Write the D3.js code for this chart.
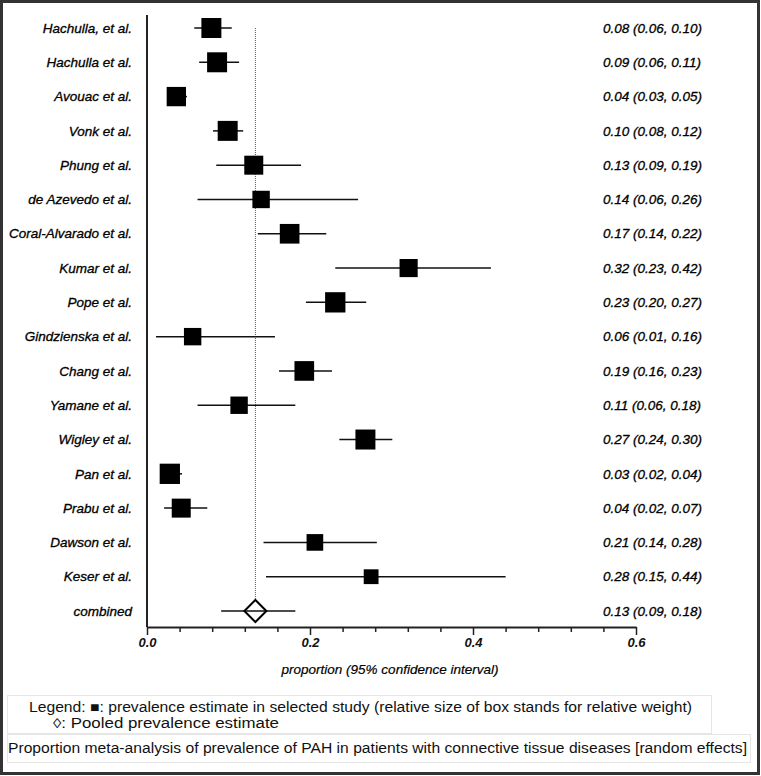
<!DOCTYPE html>
<html>
<head>
<meta charset="utf-8">
<script src="https://cdn.jsdelivr.net/npm/d3@7"></script>
<style>
  body { margin: 0; background: #fff; }
  svg { display: block; font-family: 'Liberation Sans', Arial, sans-serif; }
  .axis path, .axis line { stroke: #222; }
  .lbl { font-size: 13.5px; font-style: italic; fill: #000; stroke: #000; stroke-width: 0.3px; }
  .leg { font-size: 14px; fill: #111; }
</style>
</head>
<body>
<div id="draw"></div>
<script>
// studies, top to bottom
let studies = ['Hachulla, et al.', 'Hachulla et al.', 'Avouac et al.', 'Vonk et al.', 'Phung et al.',
  'de Azevedo et al.', 'Coral-Alvarado et al.', 'Kumar et al.', 'Pope et al.', 'Gindzienska et al.',
  'Chang et al.', 'Yamane et al.', 'Wigley et al.', 'Pan et al.', 'Prabu et al.', 'Dawson et al.',
  'Keser et al.']
let estimate = [0.079, 0.086, 0.036, 0.099, 0.131, 0.140, 0.175, 0.321, 0.231, 0.056,
  0.193, 0.113, 0.268, 0.028, 0.042, 0.206, 0.275]
let lower = [0.058, 0.064, 0.028, 0.081, 0.085, 0.062, 0.136, 0.231, 0.195, 0.011,
  0.162, 0.062, 0.236, 0.020, 0.021, 0.143, 0.146]
let upper = [0.104, 0.113, 0.049, 0.118, 0.189, 0.259, 0.220, 0.422, 0.269, 0.157,
  0.227, 0.182, 0.301, 0.043, 0.074, 0.282, 0.440]
let weight = [6.2, 6.2, 5.8, 6.2, 5.6, 4.7, 6.0, 5.1, 6.4, 4.7, 6.0, 4.7, 6.2, 6.4, 5.6, 4.3, 3.4]
let estLabels = ['0.08 (0.06, 0.10)', '0.09 (0.06, 0.11)', '0.04 (0.03, 0.05)', '0.10 (0.08, 0.12)',
  '0.13 (0.09, 0.19)', '0.14 (0.06, 0.26)', '0.17 (0.14, 0.22)', '0.32 (0.23, 0.42)',
  '0.23 (0.20, 0.27)', '0.06 (0.01, 0.16)', '0.19 (0.16, 0.23)', '0.11 (0.06, 0.18)',
  '0.27 (0.24, 0.30)', '0.03 (0.02, 0.04)', '0.04 (0.02, 0.07)', '0.21 (0.14, 0.28)',
  '0.28 (0.15, 0.44)']

// pooled (random effects)
let pooledLabel = 'combined'
let pooled = [0.133, 0.091, 0.182]
let pooledText = '0.13 (0.09, 0.18)'

let majorTicks = [0, 0.2, 0.4, 0.6]
let minorTicks = [0.04, 0.08, 0.12, 0.16, 0.24, 0.28, 0.32, 0.36, 0.44, 0.48, 0.52, 0.56]

let width = 761
let height = 776

let svg = d3.select('#draw')
  .append('svg')
  .attr('width', width)
  .attr('height', height)

svg.append('rect')
  .attr('x', 1.5)
  .attr('y', 1.5)
  .attr('width', 757)
  .attr('height', 772)
  .attr('fill', '#fff')
  .attr('stroke', '#333')
  .attr('stroke-width', 3)

let rows = studies.concat([pooledLabel])

let x = d3.scaleLinear().domain([0, 0.6]).range([147, 636])
let y = d3.scalePoint().domain(rows).range([28, 611])
let side = d3.scaleSqrt().domain([0, 6.4]).range([0, 20.3])

let data = studies.map(function (s, i) {
  return { name: s, est: estimate[i], lo: lower[i], hi: upper[i], w: weight[i], text: estLabels[i] }
})

// vertical axis line
svg.append('line')
  .attr('x1', x(0)).attr('x2', x(0))
  .attr('y1', 15).attr('y2', 627)
  .attr('stroke', '#222')
  .attr('stroke-width', 2)

// pooled reference (dotted)
svg.append('line')
  .attr('x1', x(pooled[0])).attr('x2', x(pooled[0]))
  .attr('y1', y(studies[0])).attr('y2', y(pooledLabel) - 11)
  .attr('stroke', '#555')
  .attr('stroke-width', 1)
  .attr('stroke-dasharray', '1,1')

// x axis
let axisY = 627
svg.append('g')
  .attr('class', 'axis')
  .attr('transform', 'translate(0,' + axisY + ')')
  .call(d3.axisBottom(x).tickValues(minorTicks).tickSize(5).tickSizeOuter(0).tickFormat(''))
  .call(function (g) { g.select('.domain').remove() })
  .selectAll('line').attr('stroke-width', 1.5)

let ax = svg.append('g')
  .attr('class', 'axis')
  .attr('transform', 'translate(0,' + axisY + ')')
  .call(d3.axisBottom(x).tickValues(majorTicks).tickSize(8).tickSizeOuter(0).tickPadding(3)
    .tickFormat(d3.format('.1f')))
ax.select('.domain').attr('stroke-width', 2)
ax.selectAll('line').attr('stroke-width', 1.5)
ax.selectAll('text')
  .attr('fill', '#111')
  .style('font-size', '13px')
  .style('font-style', 'italic')
  .style('font-weight', 'bold')
  .style('font-family', "'Liberation Sans', Arial, sans-serif")

svg.append('text')
  .attr('class', 'lbl')
  .attr('x', 390)
  .attr('y', 674)
  .attr('text-anchor', 'middle')
  .style('font-size', '13.5px')
  .style('stroke-width', '0.2px')
  .text('proportion (95% confidence interval)')

// study rows
let row = svg.selectAll('.study')
  .data(data)
  .enter().append('g')
  .attr('class', 'study')

row.append('line')
  .attr('x1', function (d) { return x(d.lo) })
  .attr('x2', function (d) { return x(d.hi) })
  .attr('y1', function (d) { return y(d.name) })
  .attr('y2', function (d) { return y(d.name) })
  .attr('stroke', '#111')
  .attr('stroke-width', 1.5)

row.append('rect')
  .attr('x', function (d) { return x(d.est) - side(d.w) / 2 })
  .attr('y', function (d) { return y(d.name) - side(d.w) / 2 })
  .attr('width', function (d) { return side(d.w) })
  .attr('height', function (d) { return side(d.w) })
  .attr('fill', '#000')

row.append('text')
  .attr('class', 'lbl')
  .attr('x', 132)
  .attr('y', function (d) { return y(d.name) })
  .attr('dy', '0.35em')
  .attr('text-anchor', 'end')
  .text(function (d) { return d.name })

row.append('text')
  .attr('class', 'lbl')
  .attr('x', 603)
  .attr('y', function (d) { return y(d.name) })
  .attr('dy', '0.35em')
  .text(function (d) { return d.text })

// combined row
let py = y(pooledLabel)
svg.append('line')
  .attr('x1', x(pooled[1])).attr('x2', x(pooled[2]))
  .attr('y1', py).attr('y2', py)
  .attr('stroke', '#111')
  .attr('stroke-width', 1.5)

let px = x(pooled[0])
svg.append('path')
  .attr('d', 'M' + (px - 11) + ',' + py + 'L' + px + ',' + (py - 11) + 'L' + (px + 11) + ',' + py +
    'L' + px + ',' + (py + 11) + 'Z')
  .attr('fill', 'none')
  .attr('stroke', '#000')
  .attr('stroke-width', 2)

svg.append('text')
  .attr('class', 'lbl')
  .attr('x', 132).attr('y', py).attr('dy', '0.35em')
  .attr('text-anchor', 'end')
  .text(pooledLabel)

svg.append('text')
  .attr('class', 'lbl')
  .attr('x', 603).attr('y', py).attr('dy', '0.35em')
  .text(pooledText)

// legend and caption boxes
svg.append('rect')
  .attr('x', 7.5).attr('y', 695.5)
  .attr('width', 704).attr('height', 38)
  .attr('fill', 'none')
  .attr('stroke', '#e6e6e6')

svg.append('rect')
  .attr('x', 7.5).attr('y', 734.5)
  .attr('width', 743).attr('height', 28)
  .attr('fill', 'none')
  .attr('stroke', '#e6e6e6')

// the original text is set in a slightly stretched face, so fit it to the measured widths
svg.append('text')
  .attr('class', 'leg')
  .attr('x', 29).attr('y', 712)
  .attr('textLength', 663)
  .attr('lengthAdjust', 'spacingAndGlyphs')
  .text('Legend: \u25A0: prevalence estimate in selected study (relative size of box stands for relative weight)')

svg.append('text')
  .attr('class', 'leg')
  .attr('x', 53).attr('y', 728)
  .attr('textLength', 226)
  .attr('lengthAdjust', 'spacingAndGlyphs')
  .text('\u25CA: Pooled prevalence estimate')

svg.append('text')
  .attr('class', 'leg')
  .attr('x', 8).attr('y', 753)
  .attr('textLength', 739)
  .attr('lengthAdjust', 'spacingAndGlyphs')
  .text('Proportion meta-analysis of prevalence of PAH in patients with connective tissue diseases [random effects]')
</script>
</body>
</html>
